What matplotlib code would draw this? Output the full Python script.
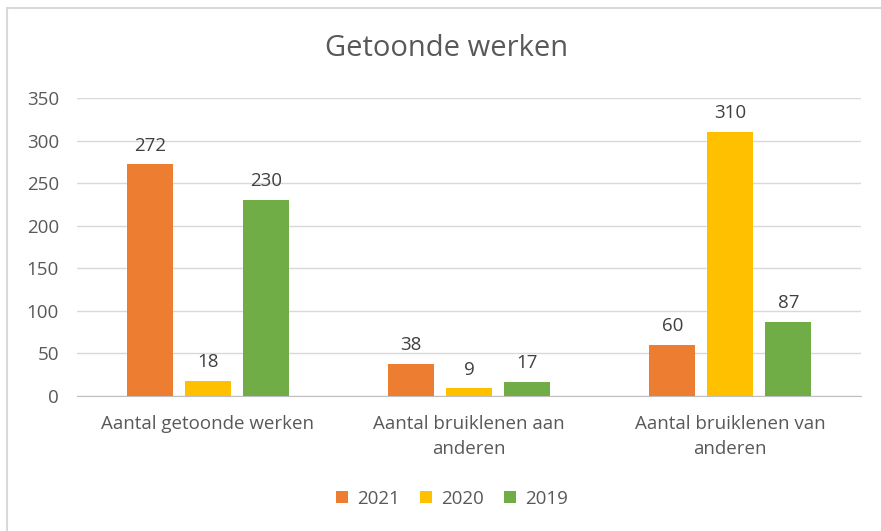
import matplotlib.pyplot as plt
from matplotlib.patches import Rectangle
import numpy as np

categories = ["Aantal getoonde werken", "Aantal bruiklenen aan\nanderen", "Aantal bruiklenen van\nanderen"]
years = ["2021", "2020", "2019"]
values_2021 = [272, 38, 60]
values_2020 = [18, 9, 310]
values_2019 = [230, 17, 87]
colors = ["#ED7D31", "#FFC000", "#70AD47"]

plt.rcParams['font.family'] = ['Open Sans', 'DejaVu Sans']

fig = plt.figure(figsize=(8.81, 5.31), dpi=100)
W, H = 881, 531
ax = fig.add_axes([77 / W, 1 - 396 / H, (861 - 77) / W, (396 - 98) / H])

# chart border
fig.patches.append(Rectangle((7 / W, -0.1), 1.1, 1 - 8 / H + 0.1, transform=fig.transFigure,
                             fill=False, edgecolor="#D9D9D9", linewidth=1.5))

x = np.arange(len(categories))
width = 0.176
step = 0.222
series = [values_2021, values_2020, values_2019]
for i, (vals, yr, c) in enumerate(zip(series, years, colors)):
    bars = ax.bar(x + (i - 1) * step, vals, width, color=c, label=yr, zorder=3)
    for b, v in zip(bars, vals):
        ax.annotate(str(v), (b.get_x() + b.get_width() / 2, v), xytext=(0, 7),
                    textcoords="offset points", ha="center", va="bottom",
                    fontsize=13.5, color="#404040")

ax.set_xlim(-0.5, 2.5)
ax.set_ylim(0, 350)
ax.set_yticks(range(0, 351, 50))
ax.set_xticks(x)
ax.set_xticklabels(categories, fontsize=13.5, color="#595959", linespacing=1.45)
ax.tick_params(axis="y", labelsize=13.5, labelcolor="#595959", length=0, pad=13)
ax.tick_params(axis="x", length=0, pad=14)
ax.grid(axis="y", color="#D9D9D9", linewidth=1, zorder=0)
for s in ["top", "right", "left"]:
    ax.spines[s].set_visible(False)
ax.spines["bottom"].set_color("#BFBFBF")

fig.text(447 / W, 1 - 48 / H, "Getoonde werken", ha="center", va="center",
         fontsize=21, color="#595959")

fig.legend(loc="center", bbox_to_anchor=(452 / W, 1 - 499 / H), ncol=3, frameon=False,
           fontsize=13.5, labelcolor="#595959", handlelength=0.6, handleheight=0.6,
           columnspacing=1.1, handletextpad=0.5)

fig.savefig("out.png", dpi=100)
